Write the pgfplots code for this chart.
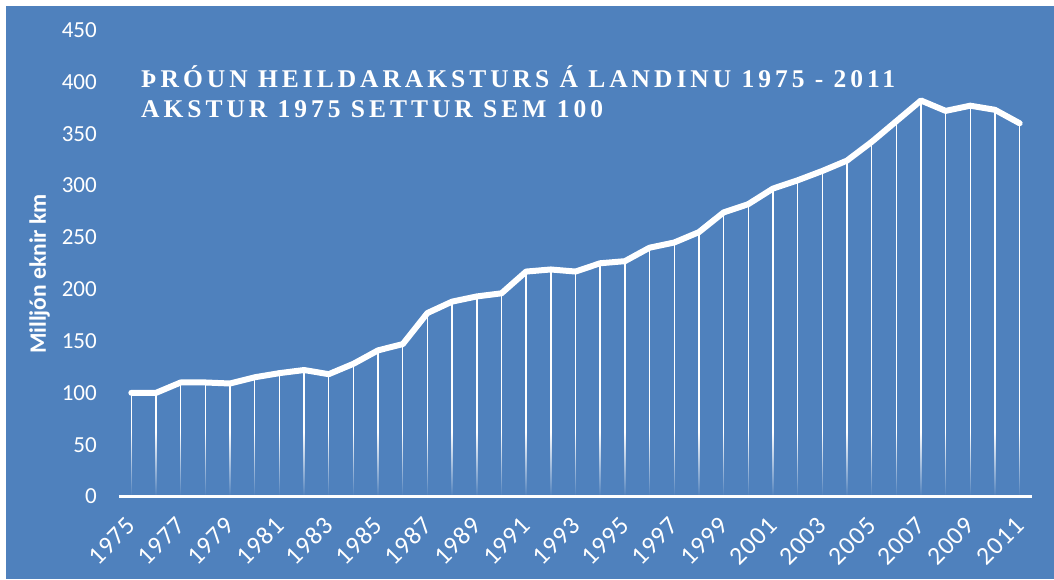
\documentclass[border=0pt]{standalone}
\usepackage{fontspec}
\usepackage{pgfplots}
\usepackage{pgfplotstable}
\pgfplotsset{compat=1.18}
\usetikzlibrary{fadings}
\setmainfont{Carlito}
\newfontfamily\titlefont[LetterSpace=15.6]{Liberation Serif}
\newfontfamily\xfont[LetterSpace=4]{Carlito}
\definecolor{bgblue}{HTML}{4F81BD}
\tikzfading[name=fadeup, top color=transparent!100, bottom color=transparent!0]
\pgfplotstableread{
year val
1975 100
1976 100
1977 110
1978 110
1979 109
1980 115
1981 119
1982 122
1983 118
1984 128
1985 141
1986 147
1987 177
1988 188
1989 193
1990 196
1991 217
1992 219
1993 217
1994 225
1995 227
1996 240
1997 245
1998 255
1999 274
2000 282
2001 297
2002 305
2003 314
2004 324
2005 342
2006 362
2007 382
2008 372
2009 377
2010 373
2011 360
}\datatable
\begin{document}
\begin{tikzpicture}
\useasboundingbox (-119pt,-82.5pt) rectangle (935pt,496.5pt);
\fill[white] (-119pt,-82.5pt) rectangle (935pt,496.5pt);
\fill[bgblue] (-113pt,-82.5pt) rectangle (935pt,490.5pt);
\begin{axis}[
  width=913pt, height=466.5pt, scale only axis,
  xmin=1974.5, xmax=2011.5, ymin=0, ymax=450,
  axis on top,
  axis x line*=bottom, axis y line*=left,
  x axis line style={white, line width=2.7pt, -},
  y axis line style={draw=none},
  major tick length=0pt,
  xtick={1975,1977,...,2011}, ytick={0,50,...,450},
  ticklabel style={text=white, inner sep=0pt},
  yticklabel style={font=\fontsize{23}{23}\selectfont},
  /pgf/number format/assume math mode=true,
  /pgf/number format/set thousands separator={},
  yticklabel shift=22pt,
  xticklabel shift=25pt,
  xticklabel style={rotate=45, anchor=east, font=\xfont\fontsize{25.5}{25.5}\selectfont},
  clip=false,
]
\addplot[ycomb, white, line width=1.4pt, mark=none] table[x=year,y=val]{\datatable};
\fill[bgblue, path fading=fadeup] (axis cs:1974.5,0) rectangle (axis cs:2011.5,62);
\addplot[white, line width=6pt, line join=round, line cap=round, mark=none] table[x=year,y=val]{\datatable};
\node[anchor=base west, text=white, inner sep=0pt, font=\titlefont\bfseries\fontsize{25.5}{31}\selectfont] at (axis description cs:0.0241,0.8778) {ÞRÓUN HEILDARAKSTURS Á LANDINU 1975 - 2011};
\node[anchor=base west, text=white, inner sep=0pt, font=\titlefont\bfseries\fontsize{25.5}{31}\selectfont] at (axis description cs:0.0241,0.8114) {AKSTUR 1975 SETTUR SEM 100};
\node[rotate=90, anchor=south, text=white, inner sep=0pt, font=\bfseries\fontsize{23.5}{23.5}\selectfont] at (axis description cs:-0.0756,0.477) {Milljón eknir km};
\end{axis}
\end{tikzpicture}
\end{document}
